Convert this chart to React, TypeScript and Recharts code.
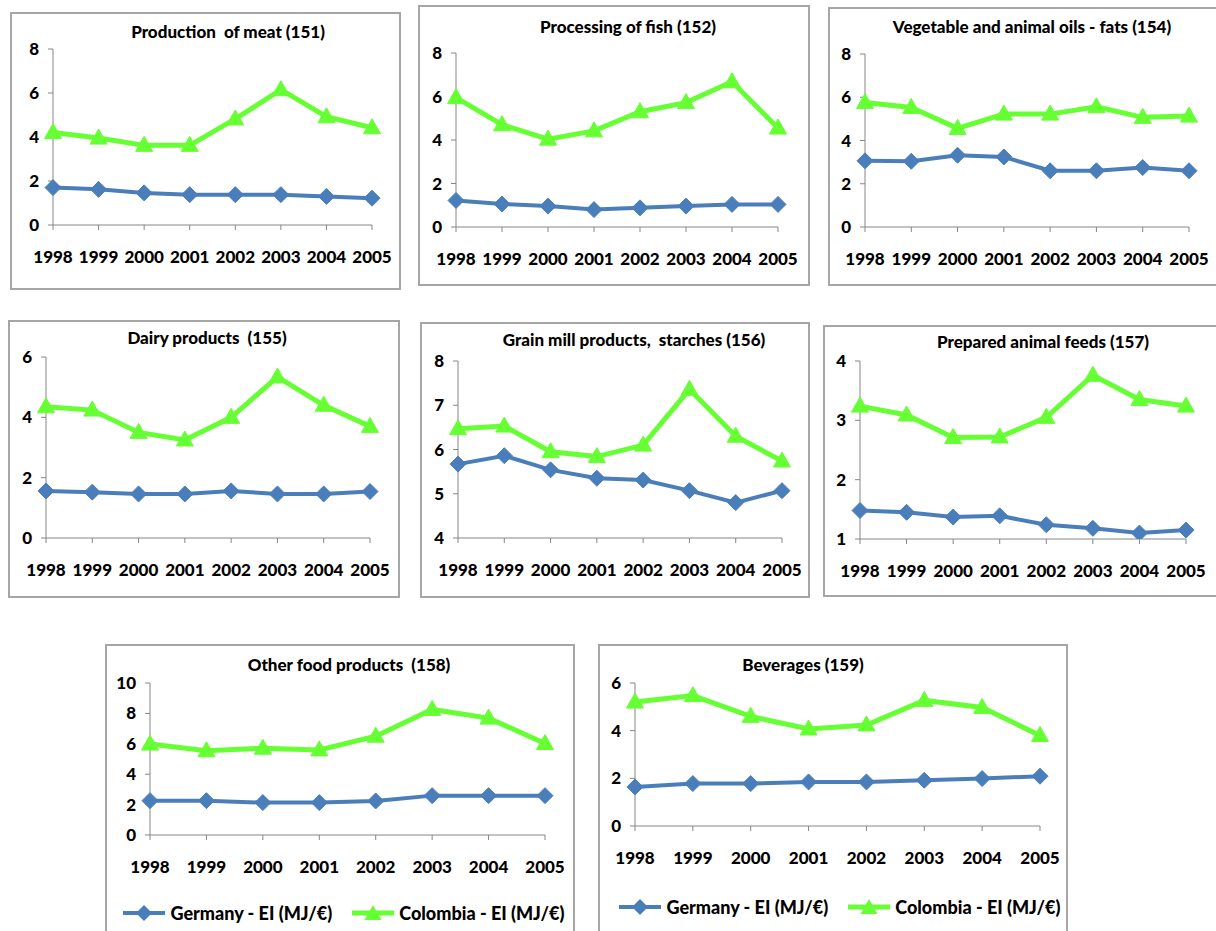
import React from "react";
import { LineChart, Line, XAxis, YAxis } from "recharts";

const years = ["1998", "1999", "2000", "2001", "2002", "2003", "2004", "2005"];
const seriesNames = ["Germany - EI (MJ/€)", "Colombia - EI (MJ/€)"];

const meatGermany = [1.7, 1.62, 1.46, 1.38, 1.38, 1.38, 1.3, 1.22];
const meatColombia = [4.2, 3.95, 3.62, 3.62, 4.82, 6.15, 4.92, 4.42];

const fishGermany = [1.22, 1.06, 0.96, 0.8, 0.88, 0.96, 1.04, 1.04];
const fishColombia = [5.95, 4.7, 4.04, 4.42, 5.3, 5.72, 6.68, 4.55];

const oilsGermany = [3.06, 3.04, 3.32, 3.24, 2.6, 2.6, 2.75, 2.6];
const oilsColombia = [5.76, 5.53, 4.56, 5.22, 5.22, 5.56, 5.07, 5.13];

const dairyGermany = [1.56, 1.52, 1.46, 1.46, 1.56, 1.46, 1.46, 1.54];
const dairyColombia = [4.35, 4.24, 3.5, 3.25, 4.0, 5.34, 4.4, 3.7];

const grainGermany = [5.67, 5.86, 5.54, 5.35, 5.31, 5.07, 4.8, 5.07];
const grainColombia = [6.47, 6.53, 5.95, 5.84, 6.1, 7.36, 6.3, 5.74];

const feedsGermany = [1.48, 1.45, 1.37, 1.39, 1.24, 1.18, 1.1, 1.15];
const feedsColombia = [3.24, 3.09, 2.71, 2.72, 3.05, 3.76, 3.35, 3.24];

const otherGermany = [2.26, 2.26, 2.13, 2.13, 2.24, 2.59, 2.59, 2.59];
const otherColombia = [5.98, 5.54, 5.71, 5.6, 6.5, 8.26, 7.69, 6.02];

const bevGermany = [1.64, 1.78, 1.78, 1.85, 1.85, 1.92, 1.99, 2.09];
const bevColombia = [5.2, 5.47, 4.6, 4.07, 4.24, 5.27, 4.97, 3.8];

const BLUE = "#4a7ebb";
const GREEN = "#66ff33";
const AXIS = "#868686";
const FONT = "Lato, 'Open Sans', sans-serif";
const WEIGHT = 900;

const makeRows = (g: number[], c: number[]) =>
  years.map((year, i) => ({ year, germany: g[i], colombia: c[i] }));

const panels = [
  {
    title: "Production  of meat (151)",
    rows: makeRows(meatGermany, meatColombia),
    domain: [0, 8], ticks: [0, 2, 4, 6, 8],
    box: { x: 10, y: 12, w: 391, h: 278 },
    plot: { l: 53, t: 49, r: 372, b: 225 },
    titlePos: { x: 228, y: 32 },
  },
  {
    title: "Processing of fish (152)",
    rows: makeRows(fishGermany, fishColombia),
    domain: [0, 8], ticks: [0, 2, 4, 6, 8],
    box: { x: 418, y: 5, w: 392, h: 281 },
    plot: { l: 456, t: 53, r: 778, b: 227 },
    titlePos: { x: 628, y: 27 },
  },
  {
    title: "Vegetable and animal oils - fats (154)",
    rows: makeRows(oilsGermany, oilsColombia),
    domain: [0, 8], ticks: [0, 2, 4, 6, 8],
    box: { x: 828, y: 7, w: 392, h: 279 },
    plot: { l: 865, t: 54, r: 1189, b: 227 },
    titlePos: { x: 1032, y: 27 },
  },
  {
    title: "Dairy products  (155)",
    rows: makeRows(dairyGermany, dairyColombia),
    domain: [0, 6], ticks: [0, 2, 4, 6],
    box: { x: 8, y: 320, w: 392, h: 278 },
    plot: { l: 46, t: 357, r: 370, b: 538 },
    titlePos: { x: 207, y: 338 },
  },
  {
    title: "Grain mill products,  starches (156)",
    rows: makeRows(grainGermany, grainColombia),
    domain: [4, 8], ticks: [4, 5, 6, 7, 8],
    box: { x: 420, y: 322, w: 390, h: 276 },
    plot: { l: 458, t: 361, r: 782, b: 538 },
    titlePos: { x: 634, y: 340 },
  },
  {
    title: "Prepared animal feeds (157)",
    rows: makeRows(feedsGermany, feedsColombia),
    domain: [1, 4], ticks: [1, 2, 3, 4],
    box: { x: 823, y: 325, w: 397, h: 272 },
    plot: { l: 860, t: 361, r: 1186, b: 539 },
    titlePos: { x: 1043, y: 342 },
  },
  {
    title: "Other food products  (158)",
    rows: makeRows(otherGermany, otherColombia),
    domain: [0, 10], ticks: [0, 2, 4, 6, 8, 10],
    box: { x: 105, y: 644, w: 470, h: 300 },
    plot: { l: 150, t: 683, r: 545, b: 835 },
    titlePos: { x: 349, y: 665 },
    legendPos: { x: 344, y: 913 },
  },
  {
    title: "Beverages (159)",
    rows: makeRows(bevGermany, bevColombia),
    domain: [0, 6], ticks: [0, 2, 4, 6],
    box: { x: 598, y: 644, w: 470, h: 300 },
    plot: { l: 635, t: 683, r: 1040, b: 826 },
    titlePos: { x: 803, y: 665 },
    legendPos: { x: 840, y: 907 },
  },
];

const diamondPath = (cx: number, cy: number) =>
  `M${cx},${cy - 8}L${cx + 8},${cy}L${cx},${cy + 8}L${cx - 8},${cy}Z`;
const trianglePath = (cx: number, cy: number) =>
  `M${cx},${cy - 9}L${cx + 8.5},${cy + 6}L${cx - 8.5},${cy + 6}Z`;

const diamondDot = (p: any) => (
  <path key={`d-${p.index}`} d={diamondPath(p.cx, p.cy)} fill={BLUE} stroke={BLUE} strokeWidth={1} />
);
const triangleDot = (p: any) => (
  <path key={`t-${p.index}`} d={trianglePath(p.cx, p.cy)} fill={GREEN} stroke={GREEN} strokeWidth={1} />
);

const XTick = (props: any) => {
  const { x, y, payload } = props;
  return (
    <text x={x} y={y + 31} textAnchor="middle" fontFamily={FONT} fontWeight={WEIGHT} fontSize={17} fill="#000">
      {payload.value}
    </text>
  );
};

const YTick = (props: any) => {
  const { x, y, payload } = props;
  return (
    <text x={x} y={y + 6} textAnchor="end" fontFamily={FONT} fontWeight={WEIGHT} fontSize={17} fill="#000">
      {payload.value}
    </text>
  );
};

const LegendBox = ({ x, y }: { x: number; y: number }) => (
  <div
    style={{
      position: "absolute", left: x - 250, top: y - 12, width: 500, height: 24,
      display: "flex", justifyContent: "center", alignItems: "center", gap: 20,
      fontFamily: FONT, fontWeight: WEIGHT, fontSize: 18,
    }}
  >
    {seriesNames.map((name, i) => (
      <div key={name} style={{ display: "flex", alignItems: "center", gap: 5 }}>
        <svg width={42} height={18}>
          <line x1={0} y1={9} x2={42} y2={9} stroke={i === 0 ? BLUE : GREEN} strokeWidth={i === 0 ? 4 : 5} />
          <path d={i === 0 ? diamondPath(21, 9) : trianglePath(21, 10)} fill={i === 0 ? BLUE : GREEN} />
        </svg>
        <span>{name}</span>
      </div>
    ))}
  </div>
);

const Panel = ({ cfg }: { cfg: any }) => {
  const { box, plot, titlePos } = cfg;
  const chartH = plot.b - box.y + 50;
  return (
    <>
      <div
        style={{
          position: "absolute", left: box.x, top: box.y, width: box.w, height: box.h,
          border: "2px solid #a6a6a6", boxSizing: "border-box", background: "#fff",
        }}
      />
      <div style={{ position: "absolute", left: box.x, top: box.y }}>
        <LineChart
          width={box.w}
          height={chartH}
          data={cfg.rows}
          margin={{ top: plot.t - box.y, right: box.x + box.w - plot.r, left: 0, bottom: 0 }}
        >
          <XAxis
            dataKey="year"
            height={chartH - (plot.b - box.y)}
            tick={<XTick />}
            tickSize={5}
            tickMargin={2}
            interval={0}
            axisLine={{ stroke: AXIS }}
            tickLine={{ stroke: AXIS }}
          />
          <YAxis
            width={plot.l - box.x}
            domain={cfg.domain}
            ticks={cfg.ticks}
            tick={<YTick />}
            tickSize={5}
            tickMargin={9}
            axisLine={{ stroke: AXIS }}
            tickLine={{ stroke: AXIS }}
            allowDataOverflow
          />
          <Line
            dataKey="germany"
            name={seriesNames[0]}
            stroke={BLUE}
            strokeWidth={4}
            dot={diamondDot}
            activeDot={false}
            isAnimationActive={false}
          />
          <Line
            dataKey="colombia"
            name={seriesNames[1]}
            stroke={GREEN}
            strokeWidth={5}
            dot={triangleDot}
            activeDot={false}
            isAnimationActive={false}
          />
        </LineChart>
      </div>
      <div
        style={{
          position: "absolute", left: titlePos.x - 200, top: titlePos.y - 11, width: 400,
          textAlign: "center", fontFamily: FONT, fontWeight: WEIGHT, fontSize: 17,
          lineHeight: "22px", whiteSpace: "pre",
        }}
      >
        {cfg.title}
      </div>
      {cfg.legendPos && <LegendBox x={cfg.legendPos.x} y={cfg.legendPos.y} />}
    </>
  );
};

export default function App() {
  return (
    <div
      style={{
        position: "absolute", left: 0, top: 0, width: 1216, height: 931,
        overflow: "hidden", background: "#fff",
      }}
    >
      {panels.map((p) => (
        <Panel key={p.title} cfg={p} />
      ))}
    </div>
  );
}
